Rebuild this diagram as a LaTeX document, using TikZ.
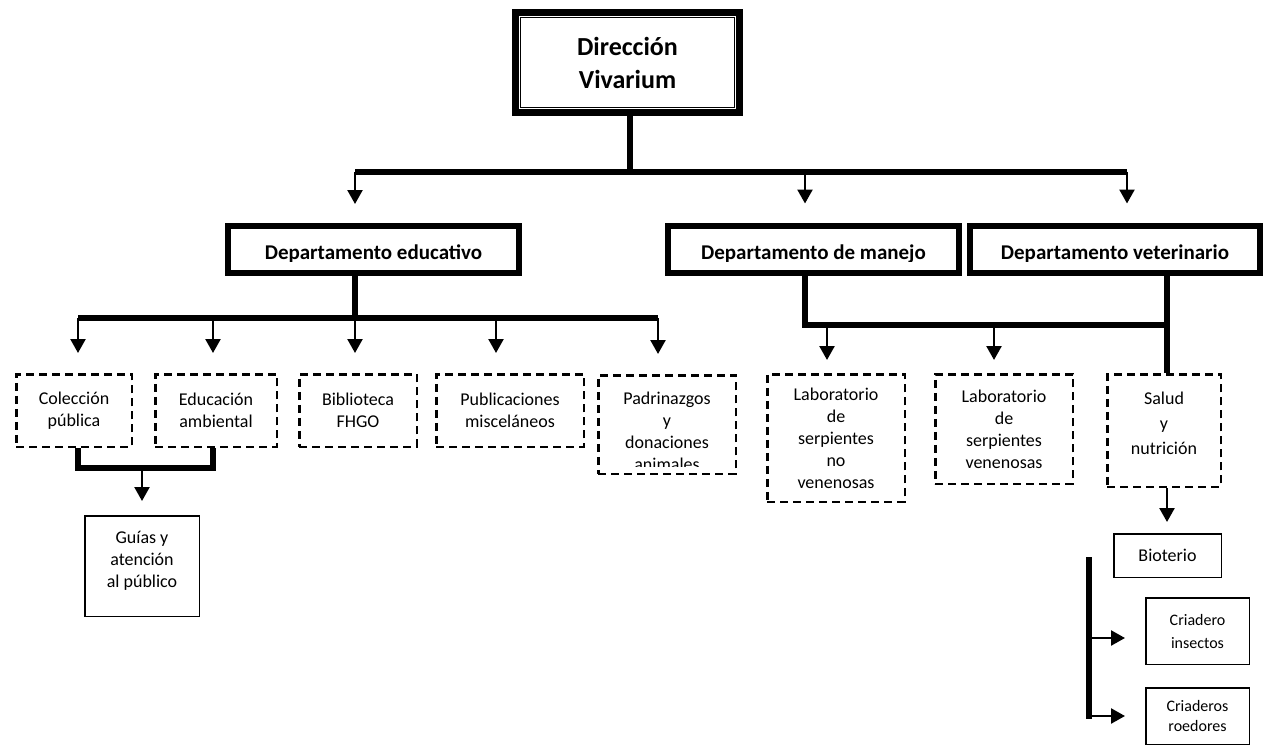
\documentclass[tikz,border=0pt]{standalone}
\usepackage{fontspec}
\setmainfont{Carlito}
\usetikzlibrary{arrows.meta}

\begin{document}
\begin{tikzpicture}[x=1pt, y=-1pt,
  bar/.style={line width=5.5pt},
  arr/.style={line width=2.4pt, -{Triangle[width=15pt,length=14pt]}},
  dirbox/.style={draw, line width=7pt, minimum width=224pt, minimum height=100pt, inner sep=0pt,
    align=center, font=\fontsize{26}{33}\selectfont\bfseries},
  deptbox/.style={draw, line width=6pt, minimum width=291pt, minimum height=47pt, inner sep=0pt},
  depttext/.style={inner sep=0pt, font=\fontsize{21}{25}\selectfont\bfseries},
  dashbox/.style={draw, line width=2.5pt, dash pattern=on 8pt off 5pt, inner sep=0pt,
    align=center, font=\fontsize{18}{22}\selectfont},
  plainbox/.style={draw, line width=1.5pt, inner sep=0pt, align=center, font=\fontsize{18}{22}\selectfont},
  boxtext/.style={inner sep=0pt, align=center, font=\fontsize{18}{22}\selectfont}]

\useasboundingbox (0,0) rectangle (1265,754);

% direccion
\node[dirbox] (dir) at (627.5,62.5) {Dirección\\Vivarium};
\draw[line width=1.6pt] ([shift={(8.5pt,-8.5pt)}]dir.north west) rectangle ([shift={(-8.5pt,8.5pt)}]dir.south east);

% departamentos
\node[deptbox] (edu) at (373.5,249.5) {};
\node[deptbox] (man) at (813.5,249) {};
\node[deptbox, minimum width=290pt] (vet) at (1115,249) {};
\foreach \b/\t in {edu/Departamento educativo, man/Departamento de manejo, vet/Departamento veterinario} {
  \begin{scope}
    \clip (\b.north west) rectangle (\b.east |- 0,261);
    \node[depttext, anchor=base] (\b-t) at (\b.center |- 0,259) {\t};
  \end{scope}
}

% unidades
\node[dashbox, minimum width=115.5pt, minimum height=72.5pt] (col) at (74,410.5) {Colección\\pública};
\node[dashbox, minimum width=121.5pt, minimum height=72.5pt] (edam) at (216,410.5) {Educación\\ambiental};
\node[dashbox, minimum width=117.5pt, minimum height=72.5pt] (bib) at (358,410.5) {Biblioteca\\FHGO};
\node[dashbox, minimum width=147.5pt, minimum height=72.5pt] (pub) at (510,410.5) {Publicaciones\\misceláneos};
\node[dashbox, minimum width=137.5pt, minimum height=98.5pt] (pad) at (667,424.5) {};
\begin{scope}
  \clip (pad.north west) rectangle (pad.east |- 0,466);
  \node[boxtext] (pad-t) at (667,431) {Padrinazgos\\y\\donaciones\\animales};
\end{scope}
\node[dashbox, minimum width=137.5pt, minimum height=127.5pt] (labno) at (836,438) {Laboratorio\\de\\serpientes\\no\\venenosas};
\node[dashbox, minimum width=137.5pt, minimum height=109.5pt] (labve) at (1004,429) {Laboratorio\\de\\serpientes\\venenosas};
\node[dashbox, minimum width=113.5pt, minimum height=112.5pt] (salud) at (1164,430.5) {};
\node[boxtext] (salud-t) at (1164,423) {Salud\\[3pt]y\\[3pt]nutrición};

\node[plainbox, minimum width=114.5pt, minimum height=100.5pt] (guias) at (142,566) {};
\node[boxtext] (guias-t) at (142,561) {Guías y\\atención\\al público};
\node[plainbox, minimum width=107.5pt, minimum height=43.5pt] (bio) at (1167.5,555.5) {Bioterio};
\node[plainbox, minimum width=103.5pt, minimum height=66.5pt, font=\fontsize{16}{23}\selectfont] (crin) at (1197.5,631) {Criadero\\insectos};
\node[plainbox, minimum width=103.5pt, minimum height=56.5pt, font=\fontsize{16}{20}\selectfont] (crro) at (1197.5,716) {Criaderos\\roedores};

% conexiones
\coordinate (topJ) at (630,172);
\coordinate (tA) at (355,172);
\coordinate (tB) at (805,172);
\coordinate (tC) at (1127,172);
\draw[bar] (topJ |- dir.south) -- (topJ);
\draw[bar] (tA) -- (tC);
\foreach \c/\b in {tA/edu, tB/man, tC/vet}
  \draw[arr, shorten >=19pt] (\c) -- (\c |- \b.north);

\coordinate (eJ) at (355,318);
\foreach \n/\x in {e1/78, e2/213, e3/355, e4/496, e5/658}
  \coordinate (\n) at (\x,318);
\draw[bar] (eJ |- edu.south) -- (eJ);
\draw[bar] (e1) -- (e5);
\foreach \c/\b in {e1/col, e2/edam, e3/bib, e4/pub, e5/pad}
  \draw[arr, shorten >=20pt] (\c) -- (\c |- \b.north);

\coordinate (mJ) at (805,325);
\coordinate (vJ) at (1167,325);
\coordinate (m1) at (827,325);
\coordinate (m2) at (994,325);
\draw[bar] (mJ |- man.south) -- (mJ) -- (vJ);
\draw[bar] (vJ |- vet.south) -- (vJ |- salud.north);
\draw[arr, shorten >=13pt] (m1) -- (m1 |- labno.north);
\draw[arr, shorten >=13pt] (m2) -- (m2 |- labve.north);

\coordinate (cJ) at (142,468);
\draw[bar] (e1 |- col.south) -- (e1 |- cJ) -- (e2 |- cJ) -- (e2 |- edam.south);
\draw[arr, shorten >=14pt] (cJ) -- (cJ |- guias.north);

\draw[arr, shorten >=11pt] (vJ |- salud.south) -- (vJ |- bio.north);
\coordinate (bT) at (1089,557);
\coordinate (bB) at (1089,718.5);
\coordinate (b1) at (1089,638);
\coordinate (b2) at (1089,716);
\draw[bar] (bT) -- (bB);
\draw[arr, shorten >=20pt] (b1) -- (b1 -| crin.west);
\draw[arr, shorten >=20pt] (b2) -- (b2 -| crro.west);

\end{tikzpicture}
\end{document}
